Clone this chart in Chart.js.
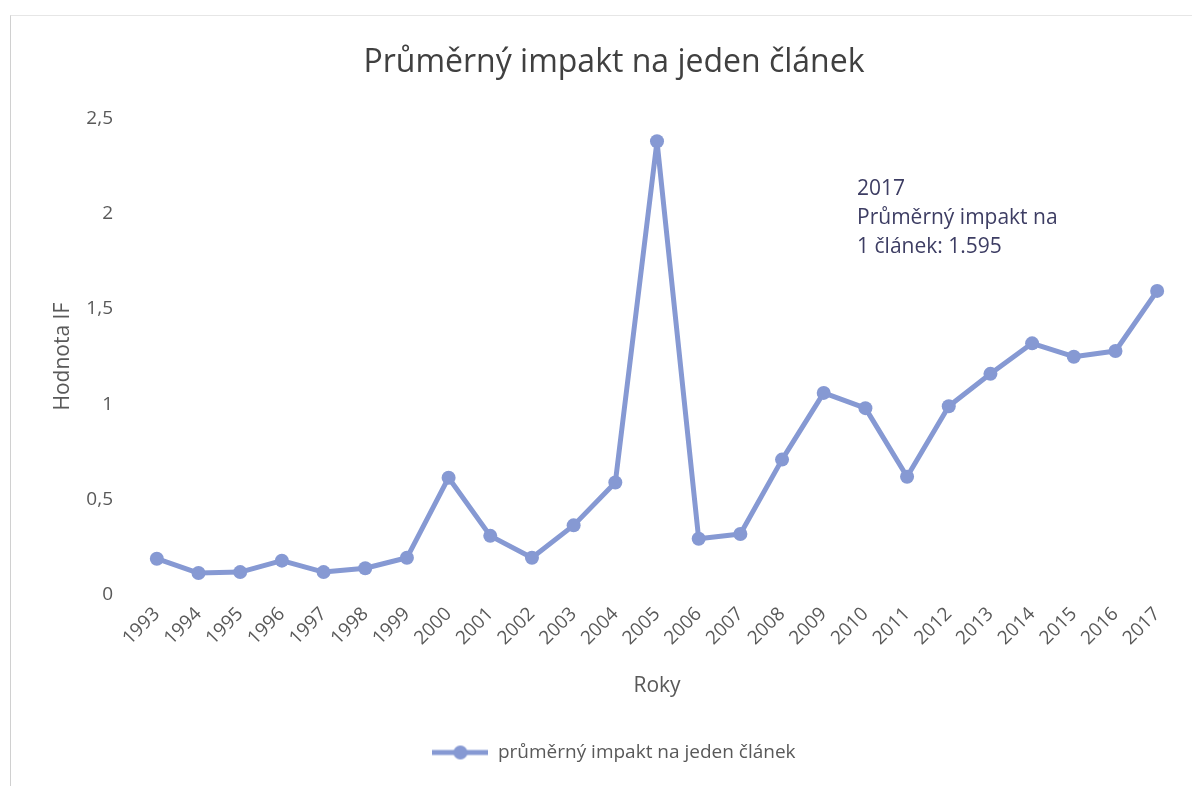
<!DOCTYPE html>
<html>
<head>
<meta charset="utf-8">
<script src="https://cdn.jsdelivr.net/npm/chart.js@4.4.1/dist/chart.umd.min.js"></script>
<style>
  html, body { margin: 0; padding: 0; background: #fff; }
  #wrap { position: relative; width: 1192px; height: 786px; }
  #wrap:before { content: ''; position: absolute; left: 10px; top: 15px; right: 0; bottom: 0;
    border-left: 1px solid #d0d0d0; border-top: 1px solid #e6e6e6; }
  canvas { position: absolute; left: 0; top: 0; }
</style>
</head>
<body>
<div id="wrap"><canvas id="impactChart" width="1192" height="786"></canvas></div>
<script>
// Data
const years = ['1993', '1994', '1995', '1996', '1997', '1998', '1999', '2000', '2001', '2002',
    '2003', '2004', '2005', '2006', '2007', '2008', '2009', '2010', '2011', '2012',
    '2013', '2014', '2015', '2016', '2017'];
const avgImpact = [0.19, 0.115, 0.12, 0.18, 0.12, 0.14, 0.195, 0.615, 0.31, 0.195,
    0.365, 0.59, 2.38, 0.295, 0.32, 0.71, 1.06, 0.98, 0.62, 0.99,
    1.16, 1.32, 1.25, 1.28, 1.595];
const yTicks = [0, 0.5, 1, 1.5, 2, 2.5];
const noteLines = ['2017', 'Průměrný impakt na', '1 článek: 1.595'];

const lineColor = 'rgb(134, 153, 211)';
const textGray = '#595959';
const fontFamily = '"Open Sans", Lato, sans-serif';

// Legend marker: line with a dot in the middle
function legendMarker() {
    const c = document.createElement('canvas');
    c.width = 56;
    c.height = 16;
    const g = c.getContext('2d');
    g.strokeStyle = lineColor;
    g.lineWidth = 5;
    g.beginPath();
    g.moveTo(0, 8);
    g.lineTo(56, 8);
    g.stroke();
    g.fillStyle = lineColor;
    g.beginPath();
    g.arc(28, 8, 7, 0, Math.PI * 2);
    g.fill();
    return c;
}

// Text note placed next to the 2009/2010 area
const notePlugin = {
    id: 'note',
    afterDraw(chart) {
        const ctx = chart.ctx;
        const x = chart.scales.x.getPixelForValue(16.8);
        const y = chart.scales.y.getPixelForValue(2.13);
        ctx.save();
        ctx.font = '21px ' + fontFamily;
        ctx.fillStyle = '#3d3d63';
        ctx.textBaseline = 'middle';
        noteLines.forEach((line, i) => ctx.fillText(line, x, y + i * 29));
        ctx.restore();
    }
};

const ctx = document.getElementById('impactChart').getContext('2d');
new Chart(ctx, {
    type: 'line',
    data: {
        labels: years,
        datasets: [{
            label: 'průměrný impakt na jeden článek',
            data: avgImpact,
            borderColor: lineColor,
            backgroundColor: lineColor,
            borderWidth: 5,
            borderJoinStyle: 'round',
            borderCapStyle: 'round',
            pointRadius: 7,
            pointBorderWidth: 0,
            pointBackgroundColor: lineColor,
            tension: 0
        }]
    },
    options: {
        responsive: false,
        animation: false,
        layout: { padding: { left: 50, right: 14, top: 0, bottom: 14 } },
        scales: {
            x: {
                offset: true,
                grid: { display: false, drawTicks: false },
                border: { display: false },
                ticks: {
                    color: textGray,
                    font: { family: fontFamily, size: 19 },
                    minRotation: 45,
                    maxRotation: 45,
                    autoSkip: false,
                    padding: 8
                },
                title: {
                    display: true,
                    text: 'Roky',
                    color: textGray,
                    font: { family: fontFamily, size: 21 },
                    padding: { top: 16, bottom: 34 }
                }
            },
            y: {
                min: 0,
                max: 2.5,
                grid: { display: false, drawTicks: false },
                border: { display: false },
                afterBuildTicks: axis => { axis.ticks = yTicks.map(v => ({ value: v })); },
                afterFit: axis => { axis.width = 86; },
                ticks: {
                    color: textGray,
                    font: { family: fontFamily, size: 19 },
                    padding: 23,
                    callback: v => String(v).replace('.', ',')
                },
                title: {
                    display: true,
                    text: 'Hodnota IF',
                    color: textGray,
                    font: { family: fontFamily, size: 21 },
                    padding: { top: 0, bottom: 8 }
                }
            }
        },
        plugins: {
            title: {
                display: true,
                text: 'Průměrný impakt na jeden článek',
                color: '#404040',
                font: { family: fontFamily, size: 32, weight: 'normal' },
                padding: { top: 44, bottom: 36 }
            },
            legend: {
                position: 'bottom',
                labels: {
                    usePointStyle: true,
                    pointStyleWidth: 56,
                    color: textGray,
                    font: { family: fontFamily, size: 19 },
                    padding: 10,
                    generateLabels: chart => [{
                        text: chart.data.datasets[0].label,
                        pointStyle: legendMarker(),
                        fillStyle: lineColor,
                        strokeStyle: lineColor,
                        lineWidth: 0,
                        fontColor: textGray,
                        datasetIndex: 0
                    }]
                }
            },
            tooltip: { enabled: false }
        }
    },
    plugins: [notePlugin]
});
</script>
</body>
</html>
